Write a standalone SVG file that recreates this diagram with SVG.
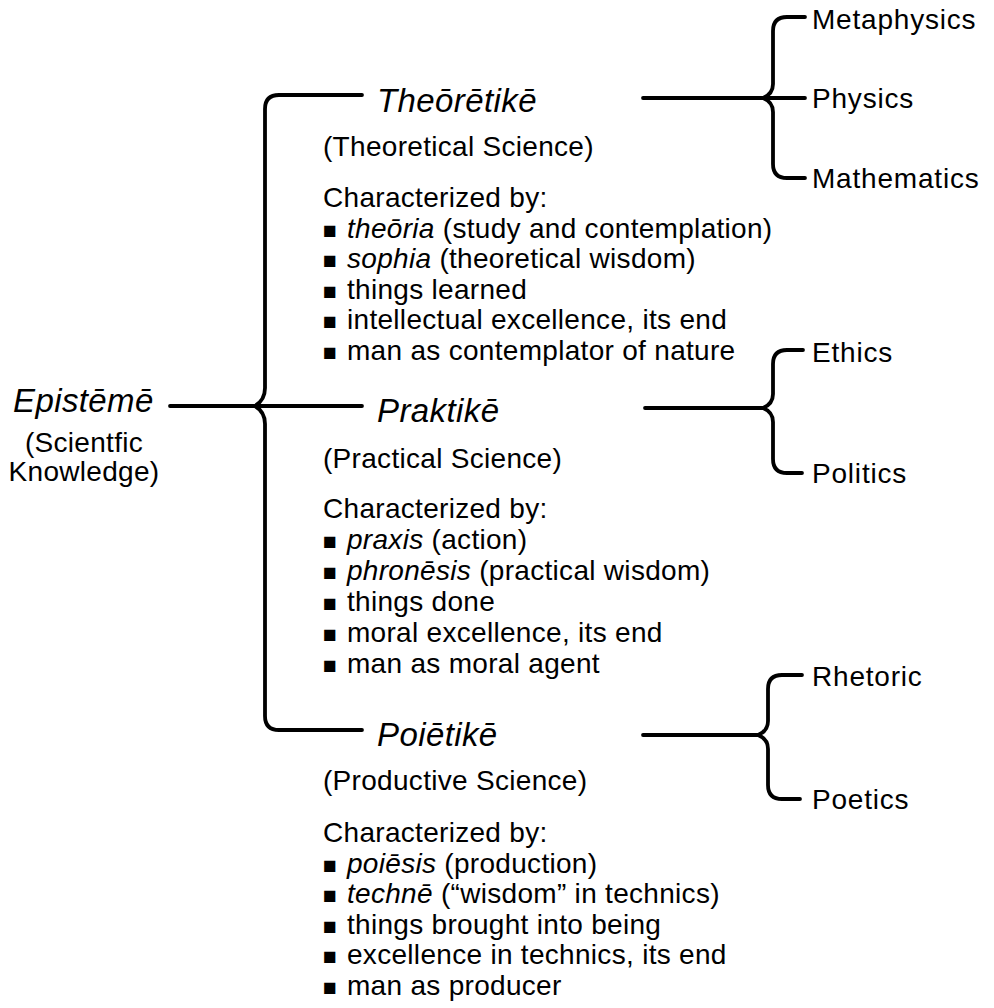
<svg xmlns="http://www.w3.org/2000/svg" width="994" height="1008" viewBox="0 0 994 1008">
<style>
.t{font-family:"Liberation Sans",Arial,Helvetica,sans-serif;font-size:28px;letter-spacing:0.3px;fill:#000}
.h{font-size:33px;font-style:italic;letter-spacing:0.4px}
.r{letter-spacing:0.8px}
.i{font-style:italic}
.b{font-size:23px;letter-spacing:0}
.c{fill:none;stroke:#000;stroke-width:3.8;stroke-linecap:round;stroke-linejoin:round}
</style>
<rect width="994" height="1008" fill="#fff"/>
<g id="connectors" class="c">
<path d="M170,406 L362,406"/>
<path d="M362,95 L279,95 Q265,95 265,109 L265,388 Q265,400 255,406 Q265,412 265,424 L265,716 Q265,730 279,730 L362,730"/>
<path d="M643,98 L805,98"/>
<path d="M805,17 L787,17 Q773,17 773,31 L773,84 Q773,94 763,98 Q773,102 773,112 L773,164 Q773,178 787,178 L805,178"/>
<path d="M645,408 L763,408"/>
<path d="M803,350 L787,350 Q773,350 773,364 L773,394 Q773,404 763,408 Q773,412 773,422 L773,459 Q773,473 787,473 L802,473"/>
<path d="M643,735 L758,735"/>
<path d="M802,675 L782,675 Q768,675 768,689 L768,721 Q768,731 758,735 Q768,739 768,749 L768,785 Q768,799 782,799 L800,799"/>
</g>
<g id="episteme" class="t">
<text class="t h" x="13" y="412">Epistēmē</text>
<text class="t" x="84" y="452" text-anchor="middle">(Scientfic</text>
<text class="t" x="84" y="481" text-anchor="middle">Knowledge)</text>
</g>
<g id="theoretike">
<text class="t h" x="377" y="112">Theōrētikē</text>
<text class="t" x="323" y="156">(Theoretical Science)</text>
<text class="t" x="323" y="207">Characterized by:</text>
<text class="t" y="238"><tspan x="323" class="b">■</tspan><tspan x="347" class="i">theōria</tspan> (study and contemplation)</text>
<text class="t" y="268"><tspan x="323" class="b">■</tspan><tspan x="347" class="i">sophia</tspan> (theoretical wisdom)</text>
<text class="t" y="299"><tspan x="323" class="b">■</tspan><tspan x="347">things learned</tspan></text>
<text class="t" y="329"><tspan x="323" class="b">■</tspan><tspan x="347">intellectual excellence, its end</tspan></text>
<text class="t" y="360"><tspan x="323" class="b">■</tspan><tspan x="347">man as contemplator of nature</tspan></text>
</g>
<g id="praktike">
<text class="t h" x="377" y="422">Praktikē</text>
<text class="t" x="323" y="468">(Practical Science)</text>
<text class="t" x="323" y="518">Characterized by:</text>
<text class="t" y="549"><tspan x="323" class="b">■</tspan><tspan x="347" class="i">praxis</tspan> (action)</text>
<text class="t" y="580"><tspan x="323" class="b">■</tspan><tspan x="347" class="i">phronēsis</tspan> (practical wisdom)</text>
<text class="t" y="611"><tspan x="323" class="b">■</tspan><tspan x="347">things done</tspan></text>
<text class="t" y="642"><tspan x="323" class="b">■</tspan><tspan x="347">moral excellence, its end</tspan></text>
<text class="t" y="673"><tspan x="323" class="b">■</tspan><tspan x="347">man as moral agent</tspan></text>
</g>
<g id="poietike">
<text class="t h" x="377" y="746">Poiētikē</text>
<text class="t" x="323" y="790">(Productive Science)</text>
<text class="t" x="323" y="842">Characterized by:</text>
<text class="t" y="873"><tspan x="323" class="b">■</tspan><tspan x="347" class="i">poiēsis</tspan> (production)</text>
<text class="t" y="903"><tspan x="323" class="b">■</tspan><tspan x="347" class="i">technē</tspan> (“wisdom” in technics)</text>
<text class="t" y="934"><tspan x="323" class="b">■</tspan><tspan x="347">things brought into being</tspan></text>
<text class="t" y="964"><tspan x="323" class="b">■</tspan><tspan x="347">excellence in technics, its end</tspan></text>
<text class="t" y="995"><tspan x="323" class="b">■</tspan><tspan x="347">man as producer</tspan></text>
</g>
<g id="metaphysics"><text class="t r" x="812" y="29">Metaphysics</text></g>
<g id="physics"><text class="t r" x="812" y="108">Physics</text></g>
<g id="mathematics"><text class="t r" x="812" y="188">Mathematics</text></g>
<g id="ethics"><text class="t r" x="812" y="362">Ethics</text></g>
<g id="politics"><text class="t r" x="812" y="483">Politics</text></g>
<g id="rhetoric"><text class="t r" x="812" y="686">Rhetoric</text></g>
<g id="poetics"><text class="t r" x="812" y="809">Poetics</text></g>
</svg>
